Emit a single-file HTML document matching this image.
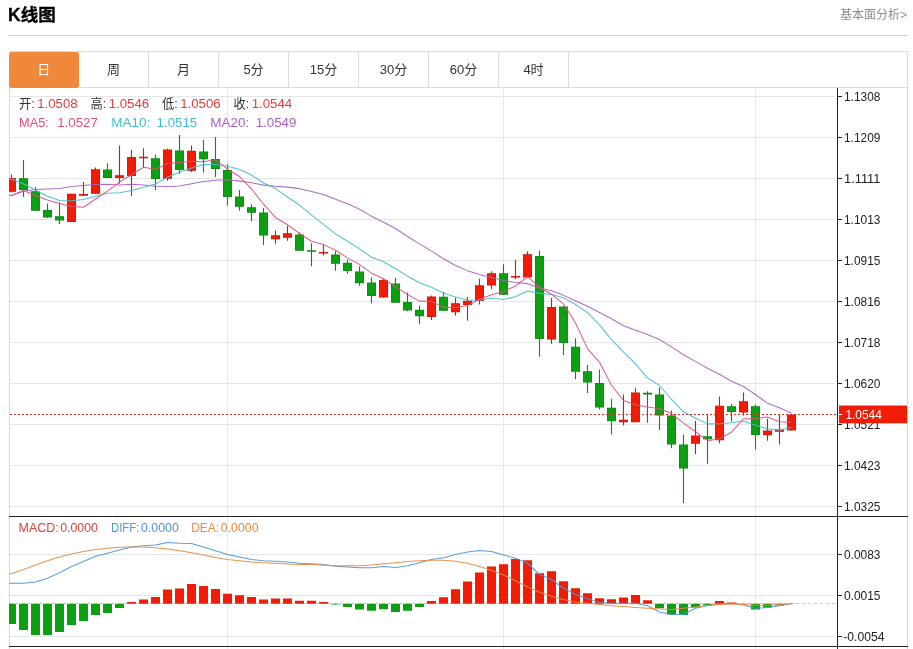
<!DOCTYPE html>
<html lang="zh"><head><meta charset="utf-8"><title>K线图</title>
<style>
html,body{margin:0;padding:0;background:#fff;}
body{width:913px;height:649px;position:relative;overflow:hidden;font-family:"Liberation Sans","Noto Sans CJK SC",sans-serif;color:#333;}
.title{position:absolute;left:8px;top:3px;font-size:17.5px;font-weight:bold;color:#000;-webkit-text-stroke:0.35px #000;line-height:24px;white-space:nowrap;}
.more{position:absolute;right:6px;top:5.5px;font-size:12px;color:#8c8c8c;line-height:18px;white-space:nowrap;}
.hr{position:absolute;left:8px;right:5px;top:35px;height:1px;background:#d4d4d4;}
.tabs{position:absolute;left:9px;top:51px;width:897px;height:35px;border:1px solid #dcdcdc;box-sizing:content-box;}
.tab{position:absolute;top:0;width:69px;height:35px;border-right:1px solid #dcdcdc;text-align:center;line-height:36px;font-size:13px;color:#333;}
.tab.on{background:#f0883c;color:#fff;border-radius:3px;left:-1px;top:-0.5px;height:36px;width:69.5px;border-right:none;}
.frame{position:absolute;left:9px;top:87px;width:897px;height:562px;border-left:1px solid #d6d6d6;border-right:1px solid #d6d6d6;}
.info{position:absolute;font-size:13px;line-height:18px;white-space:nowrap;}
.info b{font-weight:normal;}
.r{color:#e2403a;}
</style></head><body>
<div class="title">K线图</div>
<div class="more">基本面分析&gt;</div>
<div class="hr"></div>
<div class="tabs"><div class="tab on" style="left:-1px">日</div><div class="tab" style="left:69px">周</div><div class="tab" style="left:139px">月</div><div class="tab" style="left:209px">5分</div><div class="tab" style="left:279px">15分</div><div class="tab" style="left:349px">30分</div><div class="tab" style="left:419px">60分</div><div class="tab" style="left:489px">4时</div></div>
<div class="frame"></div>
<svg width="913" height="649" viewBox="0 0 913 649" style="position:absolute;left:0;top:0">
<defs><clipPath id="cp"><rect x="9" y="88" width="828.5" height="558"/></clipPath></defs>
<g stroke="#e4e6e9" stroke-width="1" shape-rendering="crispEdges">
<line x1="10" y1="96.5" x2="835" y2="96.5"/>
<line x1="10" y1="137.5" x2="835" y2="137.5"/>
<line x1="10" y1="178.5" x2="835" y2="178.5"/>
<line x1="10" y1="219.5" x2="835" y2="219.5"/>
<line x1="10" y1="260.5" x2="835" y2="260.5"/>
<line x1="10" y1="301.5" x2="835" y2="301.5"/>
<line x1="10" y1="342.5" x2="835" y2="342.5"/>
<line x1="10" y1="383.5" x2="835" y2="383.5"/>
<line x1="10" y1="424.5" x2="835" y2="424.5"/>
<line x1="10" y1="465.5" x2="835" y2="465.5"/>
<line x1="10" y1="506.5" x2="835" y2="506.5"/>
<line x1="10" y1="554.5" x2="835" y2="554.5"/>
<line x1="10" y1="595.5" x2="835" y2="595.5"/>
<line x1="10" y1="636.5" x2="835" y2="636.5"/>
<line x1="227.5" y1="88" x2="227.5" y2="649" stroke="#e3e9f0"/>
<line x1="503.5" y1="88" x2="503.5" y2="649" stroke="#e3e9f0"/>
<line x1="755.5" y1="88" x2="755.5" y2="649" stroke="#e3e9f0"/>
</g>
<g clip-path="url(#cp)">
<line x1="10" y1="603.75" x2="835" y2="603.75" stroke="#b9d3e2" stroke-width="1" stroke-dasharray="3,3" shape-rendering="crispEdges"/>
<line x1="11.5" y1="174.5" x2="11.5" y2="192.5" stroke="#d4150a" stroke-width="1.1"/>
<rect x="7.0" y="178.25" width="9" height="13.50" fill="#d4150a"/>
<rect x="7.6" y="178.85" width="7.8" height="12.30" fill="#f21b06"/>
<line x1="23.5" y1="160.0" x2="23.5" y2="197.0" stroke="#0b8716" stroke-width="1.1"/>
<rect x="19.0" y="178.25" width="9" height="11.75" fill="#0b8716"/>
<rect x="19.6" y="178.85" width="7.8" height="10.55" fill="#0d9f12"/>
<line x1="35.5" y1="187.0" x2="35.5" y2="210.75" stroke="#0b8716" stroke-width="1.1"/>
<rect x="31.0" y="191.25" width="9" height="19.50" fill="#0b8716"/>
<rect x="31.6" y="191.85" width="7.8" height="18.30" fill="#0d9f12"/>
<line x1="47.5" y1="203.75" x2="47.5" y2="218.0" stroke="#0b8716" stroke-width="1.1"/>
<rect x="43.0" y="210.0" width="9" height="7.50" fill="#0b8716"/>
<rect x="43.6" y="210.6" width="7.8" height="6.30" fill="#0d9f12"/>
<line x1="59.5" y1="202.5" x2="59.5" y2="224.0" stroke="#0b8716" stroke-width="1.1"/>
<rect x="55.0" y="216.25" width="9" height="4.25" fill="#0b8716"/>
<rect x="55.6" y="216.85" width="7.8" height="3.05" fill="#0d9f12"/>
<line x1="71.5" y1="193.75" x2="71.5" y2="222.0" stroke="#d4150a" stroke-width="1.1"/>
<rect x="67.0" y="193.75" width="9" height="28.25" fill="#d4150a"/>
<rect x="67.6" y="194.35" width="7.8" height="27.05" fill="#f21b06"/>
<line x1="83.5" y1="182.0" x2="83.5" y2="195.75" stroke="#d4150a" stroke-width="1.1"/>
<rect x="79.0" y="194.0" width="9" height="1.75" fill="#d4150a"/>
<line x1="95.5" y1="167.5" x2="95.5" y2="193.75" stroke="#d4150a" stroke-width="1.1"/>
<rect x="91.0" y="169.25" width="9" height="24.50" fill="#d4150a"/>
<rect x="91.6" y="169.85" width="7.8" height="23.30" fill="#f21b06"/>
<line x1="107.5" y1="163.25" x2="107.5" y2="178.0" stroke="#0b8716" stroke-width="1.1"/>
<rect x="103.0" y="169.5" width="9" height="8.50" fill="#0b8716"/>
<rect x="103.6" y="170.1" width="7.8" height="7.30" fill="#0d9f12"/>
<line x1="119.5" y1="145.5" x2="119.5" y2="183.75" stroke="#d4150a" stroke-width="1.1"/>
<rect x="115.0" y="175.25" width="9" height="2.75" fill="#d4150a"/>
<rect x="115.6" y="175.85" width="7.8" height="1.55" fill="#f21b06"/>
<line x1="131.5" y1="150.0" x2="131.5" y2="196.0" stroke="#d4150a" stroke-width="1.1"/>
<rect x="127.0" y="157.0" width="9" height="19.00" fill="#d4150a"/>
<rect x="127.6" y="157.6" width="7.8" height="17.80" fill="#f21b06"/>
<line x1="143.5" y1="148.25" x2="143.5" y2="167.5" stroke="#d4150a" stroke-width="1.1"/>
<rect x="139.0" y="156.75" width="9" height="1.50" fill="#d4150a"/>
<line x1="155.5" y1="154.5" x2="155.5" y2="190.0" stroke="#0b8716" stroke-width="1.1"/>
<rect x="151.0" y="158.25" width="9" height="20.75" fill="#0b8716"/>
<rect x="151.6" y="158.85" width="7.8" height="19.55" fill="#0d9f12"/>
<line x1="167.5" y1="148.75" x2="167.5" y2="180.75" stroke="#d4150a" stroke-width="1.1"/>
<rect x="163.0" y="149.5" width="9" height="29.25" fill="#d4150a"/>
<rect x="163.6" y="150.1" width="7.8" height="28.05" fill="#f21b06"/>
<line x1="179.5" y1="135.0" x2="179.5" y2="173.75" stroke="#0b8716" stroke-width="1.1"/>
<rect x="175.0" y="150.5" width="9" height="19.50" fill="#0b8716"/>
<rect x="175.6" y="151.1" width="7.8" height="18.30" fill="#0d9f12"/>
<line x1="191.5" y1="145.5" x2="191.5" y2="172.0" stroke="#d4150a" stroke-width="1.1"/>
<rect x="187.0" y="150.75" width="9" height="20.00" fill="#d4150a"/>
<rect x="187.6" y="151.35" width="7.8" height="18.80" fill="#f21b06"/>
<line x1="203.5" y1="140.0" x2="203.5" y2="172.5" stroke="#0b8716" stroke-width="1.1"/>
<rect x="199.0" y="151.5" width="9" height="7.75" fill="#0b8716"/>
<rect x="199.6" y="152.1" width="7.8" height="6.55" fill="#0d9f12"/>
<line x1="215.5" y1="137.0" x2="215.5" y2="177.0" stroke="#0b8716" stroke-width="1.1"/>
<rect x="211.0" y="159.0" width="9" height="10.00" fill="#0b8716"/>
<rect x="211.6" y="159.6" width="7.8" height="8.80" fill="#0d9f12"/>
<line x1="227.5" y1="164.25" x2="227.5" y2="205.5" stroke="#0b8716" stroke-width="1.1"/>
<rect x="223.0" y="170.0" width="9" height="27.00" fill="#0b8716"/>
<rect x="223.6" y="170.6" width="7.8" height="25.80" fill="#0d9f12"/>
<line x1="239.5" y1="190.0" x2="239.5" y2="210.75" stroke="#0b8716" stroke-width="1.1"/>
<rect x="235.0" y="196.5" width="9" height="10.25" fill="#0b8716"/>
<rect x="235.6" y="197.1" width="7.8" height="9.05" fill="#0d9f12"/>
<line x1="251.5" y1="204.25" x2="251.5" y2="221.25" stroke="#0b8716" stroke-width="1.1"/>
<rect x="247.0" y="207.25" width="9" height="5.50" fill="#0b8716"/>
<rect x="247.6" y="207.85" width="7.8" height="4.30" fill="#0d9f12"/>
<line x1="263.5" y1="208.0" x2="263.5" y2="245.0" stroke="#0b8716" stroke-width="1.1"/>
<rect x="259.0" y="212.5" width="9" height="23.00" fill="#0b8716"/>
<rect x="259.6" y="213.1" width="7.8" height="21.80" fill="#0d9f12"/>
<line x1="275.5" y1="230.5" x2="275.5" y2="243.75" stroke="#d4150a" stroke-width="1.1"/>
<rect x="271.0" y="235.25" width="9" height="4.00" fill="#d4150a"/>
<rect x="271.6" y="235.85" width="7.8" height="2.80" fill="#f21b06"/>
<line x1="287.5" y1="225.75" x2="287.5" y2="240.75" stroke="#d4150a" stroke-width="1.1"/>
<rect x="283.0" y="233.25" width="9" height="4.50" fill="#d4150a"/>
<rect x="283.6" y="233.85" width="7.8" height="3.30" fill="#f21b06"/>
<line x1="299.5" y1="232.5" x2="299.5" y2="250.75" stroke="#0b8716" stroke-width="1.1"/>
<rect x="295.0" y="234.5" width="9" height="16.25" fill="#0b8716"/>
<rect x="295.6" y="235.1" width="7.8" height="15.05" fill="#0d9f12"/>
<line x1="311.5" y1="243.25" x2="311.5" y2="266.25" stroke="#0b8716" stroke-width="1.1"/>
<rect x="307.0" y="250.25" width="9" height="1.50" fill="#0b8716"/>
<line x1="323.5" y1="244.5" x2="323.5" y2="255.5" stroke="#d4150a" stroke-width="1.1"/>
<rect x="319.0" y="252.0" width="9" height="1.50" fill="#d4150a"/>
<line x1="335.5" y1="251.25" x2="335.5" y2="270.75" stroke="#0b8716" stroke-width="1.1"/>
<rect x="331.0" y="254.5" width="9" height="9.25" fill="#0b8716"/>
<rect x="331.6" y="255.1" width="7.8" height="8.05" fill="#0d9f12"/>
<line x1="347.5" y1="259.5" x2="347.5" y2="273.75" stroke="#0b8716" stroke-width="1.1"/>
<rect x="343.0" y="262.75" width="9" height="8.25" fill="#0b8716"/>
<rect x="343.6" y="263.35" width="7.8" height="7.05" fill="#0d9f12"/>
<line x1="359.5" y1="266.25" x2="359.5" y2="285.75" stroke="#0b8716" stroke-width="1.1"/>
<rect x="355.0" y="271.5" width="9" height="11.75" fill="#0b8716"/>
<rect x="355.6" y="272.1" width="7.8" height="10.55" fill="#0d9f12"/>
<line x1="371.5" y1="277.5" x2="371.5" y2="303.25" stroke="#0b8716" stroke-width="1.1"/>
<rect x="367.0" y="282.5" width="9" height="13.50" fill="#0b8716"/>
<rect x="367.6" y="283.1" width="7.8" height="12.30" fill="#0d9f12"/>
<line x1="383.5" y1="278.75" x2="383.5" y2="297.5" stroke="#d4150a" stroke-width="1.1"/>
<rect x="379.0" y="280.0" width="9" height="17.50" fill="#d4150a"/>
<rect x="379.6" y="280.6" width="7.8" height="16.30" fill="#f21b06"/>
<line x1="395.5" y1="278.0" x2="395.5" y2="302.75" stroke="#0b8716" stroke-width="1.1"/>
<rect x="391.0" y="283.5" width="9" height="19.25" fill="#0b8716"/>
<rect x="391.6" y="284.1" width="7.8" height="18.05" fill="#0d9f12"/>
<line x1="407.5" y1="292.5" x2="407.5" y2="311.25" stroke="#0b8716" stroke-width="1.1"/>
<rect x="403.0" y="302.0" width="9" height="8.50" fill="#0b8716"/>
<rect x="403.6" y="302.6" width="7.8" height="7.30" fill="#0d9f12"/>
<line x1="419.5" y1="305.5" x2="419.5" y2="324.25" stroke="#0b8716" stroke-width="1.1"/>
<rect x="415.0" y="309.75" width="9" height="6.50" fill="#0b8716"/>
<rect x="415.6" y="310.35" width="7.8" height="5.30" fill="#0d9f12"/>
<line x1="431.5" y1="295.5" x2="431.5" y2="320.0" stroke="#d4150a" stroke-width="1.1"/>
<rect x="427.0" y="296.5" width="9" height="20.50" fill="#d4150a"/>
<rect x="427.6" y="297.1" width="7.8" height="19.30" fill="#f21b06"/>
<line x1="443.5" y1="292.0" x2="443.5" y2="310.75" stroke="#0b8716" stroke-width="1.1"/>
<rect x="439.0" y="296.75" width="9" height="14.00" fill="#0b8716"/>
<rect x="439.6" y="297.35" width="7.8" height="12.80" fill="#0d9f12"/>
<line x1="455.5" y1="297.5" x2="455.5" y2="315.5" stroke="#d4150a" stroke-width="1.1"/>
<rect x="451.0" y="303.25" width="9" height="9.00" fill="#d4150a"/>
<rect x="451.6" y="303.85" width="7.8" height="7.80" fill="#f21b06"/>
<line x1="467.5" y1="297.0" x2="467.5" y2="320.75" stroke="#d4150a" stroke-width="1.1"/>
<rect x="463.0" y="300.75" width="9" height="4.25" fill="#d4150a"/>
<rect x="463.6" y="301.35" width="7.8" height="3.05" fill="#f21b06"/>
<line x1="479.5" y1="278.75" x2="479.5" y2="304.5" stroke="#d4150a" stroke-width="1.1"/>
<rect x="475.0" y="285.25" width="9" height="15.75" fill="#d4150a"/>
<rect x="475.6" y="285.85" width="7.8" height="14.55" fill="#f21b06"/>
<line x1="491.5" y1="271.25" x2="491.5" y2="289.25" stroke="#d4150a" stroke-width="1.1"/>
<rect x="487.0" y="273.25" width="9" height="12.25" fill="#d4150a"/>
<rect x="487.6" y="273.85" width="7.8" height="11.05" fill="#f21b06"/>
<line x1="503.5" y1="264.25" x2="503.5" y2="294.75" stroke="#0b8716" stroke-width="1.1"/>
<rect x="499.0" y="273.25" width="9" height="21.50" fill="#0b8716"/>
<rect x="499.6" y="273.85" width="7.8" height="20.30" fill="#0d9f12"/>
<line x1="515.5" y1="260.0" x2="515.5" y2="279.25" stroke="#d4150a" stroke-width="1.1"/>
<rect x="511.0" y="276.0" width="9" height="1.50" fill="#d4150a"/>
<line x1="527.5" y1="251.25" x2="527.5" y2="277.5" stroke="#d4150a" stroke-width="1.1"/>
<rect x="523.0" y="254.25" width="9" height="23.25" fill="#d4150a"/>
<rect x="523.6" y="254.85" width="7.8" height="22.05" fill="#f21b06"/>
<line x1="539.5" y1="250.5" x2="539.5" y2="356.75" stroke="#0b8716" stroke-width="1.1"/>
<rect x="535.0" y="256.0" width="9" height="83.00" fill="#0b8716"/>
<rect x="535.6" y="256.6" width="7.8" height="81.80" fill="#0d9f12"/>
<line x1="551.5" y1="298.0" x2="551.5" y2="343.75" stroke="#d4150a" stroke-width="1.1"/>
<rect x="547.0" y="307.0" width="9" height="32.50" fill="#d4150a"/>
<rect x="547.6" y="307.6" width="7.8" height="31.30" fill="#f21b06"/>
<line x1="563.5" y1="306.5" x2="563.5" y2="355.0" stroke="#0b8716" stroke-width="1.1"/>
<rect x="559.0" y="306.5" width="9" height="36.50" fill="#0b8716"/>
<rect x="559.6" y="307.1" width="7.8" height="35.30" fill="#0d9f12"/>
<line x1="575.5" y1="338.25" x2="575.5" y2="379.25" stroke="#0b8716" stroke-width="1.1"/>
<rect x="571.0" y="346.75" width="9" height="25.00" fill="#0b8716"/>
<rect x="571.6" y="347.35" width="7.8" height="23.80" fill="#0d9f12"/>
<line x1="587.5" y1="365.0" x2="587.5" y2="393.0" stroke="#0b8716" stroke-width="1.1"/>
<rect x="583.0" y="371.25" width="9" height="11.25" fill="#0b8716"/>
<rect x="583.6" y="371.85" width="7.8" height="10.05" fill="#0d9f12"/>
<line x1="599.5" y1="369.5" x2="599.5" y2="409.5" stroke="#0b8716" stroke-width="1.1"/>
<rect x="595.0" y="383.0" width="9" height="24.50" fill="#0b8716"/>
<rect x="595.6" y="383.6" width="7.8" height="23.30" fill="#0d9f12"/>
<line x1="611.5" y1="398.75" x2="611.5" y2="434.5" stroke="#0b8716" stroke-width="1.1"/>
<rect x="607.0" y="407.75" width="9" height="13.50" fill="#0b8716"/>
<rect x="607.6" y="408.35" width="7.8" height="12.30" fill="#0d9f12"/>
<line x1="623.5" y1="394.5" x2="623.5" y2="425.5" stroke="#d4150a" stroke-width="1.1"/>
<rect x="619.0" y="419.75" width="9" height="2.50" fill="#d4150a"/>
<rect x="619.6" y="420.35" width="7.8" height="1.30" fill="#f21b06"/>
<line x1="635.5" y1="388.25" x2="635.5" y2="422.25" stroke="#d4150a" stroke-width="1.1"/>
<rect x="631.0" y="392.5" width="9" height="29.75" fill="#d4150a"/>
<rect x="631.6" y="393.1" width="7.8" height="28.55" fill="#f21b06"/>
<line x1="647.5" y1="391.25" x2="647.5" y2="422.75" stroke="#0b8716" stroke-width="1.1"/>
<rect x="643.0" y="392.75" width="9" height="1.75" fill="#0b8716"/>
<line x1="659.5" y1="387.5" x2="659.5" y2="430.0" stroke="#0b8716" stroke-width="1.1"/>
<rect x="655.0" y="394.5" width="9" height="21.00" fill="#0b8716"/>
<rect x="655.6" y="395.1" width="7.8" height="19.80" fill="#0d9f12"/>
<line x1="671.5" y1="410.5" x2="671.5" y2="448.25" stroke="#0b8716" stroke-width="1.1"/>
<rect x="667.0" y="415.5" width="9" height="29.00" fill="#0b8716"/>
<rect x="667.6" y="416.1" width="7.8" height="27.80" fill="#0d9f12"/>
<line x1="683.5" y1="434.5" x2="683.5" y2="503.0" stroke="#0b8716" stroke-width="1.1"/>
<rect x="679.0" y="444.5" width="9" height="24.00" fill="#0b8716"/>
<rect x="679.6" y="445.1" width="7.8" height="22.80" fill="#0d9f12"/>
<line x1="695.5" y1="420.75" x2="695.5" y2="454.25" stroke="#d4150a" stroke-width="1.1"/>
<rect x="691.0" y="435.5" width="9" height="8.25" fill="#d4150a"/>
<rect x="691.6" y="436.1" width="7.8" height="7.05" fill="#f21b06"/>
<line x1="707.5" y1="414.5" x2="707.5" y2="463.75" stroke="#0b8716" stroke-width="1.1"/>
<rect x="703.0" y="436.25" width="9" height="3.00" fill="#0b8716"/>
<rect x="703.6" y="436.85" width="7.8" height="1.80" fill="#0d9f12"/>
<line x1="719.5" y1="396.5" x2="719.5" y2="443.25" stroke="#d4150a" stroke-width="1.1"/>
<rect x="715.0" y="405.75" width="9" height="34.50" fill="#d4150a"/>
<rect x="715.6" y="406.35" width="7.8" height="33.30" fill="#f21b06"/>
<line x1="731.5" y1="404.0" x2="731.5" y2="421.75" stroke="#0b8716" stroke-width="1.1"/>
<rect x="727.0" y="406.25" width="9" height="5.75" fill="#0b8716"/>
<rect x="727.6" y="406.85" width="7.8" height="4.55" fill="#0d9f12"/>
<line x1="743.5" y1="392.5" x2="743.5" y2="415.5" stroke="#d4150a" stroke-width="1.1"/>
<rect x="739.0" y="401.25" width="9" height="11.25" fill="#d4150a"/>
<rect x="739.6" y="401.85" width="7.8" height="10.05" fill="#f21b06"/>
<line x1="755.5" y1="404.5" x2="755.5" y2="449.5" stroke="#0b8716" stroke-width="1.1"/>
<rect x="751.0" y="406.25" width="9" height="28.75" fill="#0b8716"/>
<rect x="751.6" y="406.85" width="7.8" height="27.55" fill="#0d9f12"/>
<line x1="767.5" y1="418.75" x2="767.5" y2="440.75" stroke="#d4150a" stroke-width="1.1"/>
<rect x="763.0" y="430.5" width="9" height="4.75" fill="#d4150a"/>
<rect x="763.6" y="431.1" width="7.8" height="3.55" fill="#f21b06"/>
<line x1="779.5" y1="414.5" x2="779.5" y2="444.5" stroke="#d4150a" stroke-width="1.1"/>
<rect x="775.0" y="429.5" width="9" height="2.25" fill="#d4150a"/>
<rect x="775.6" y="430.1" width="7.8" height="1.05" fill="#f21b06"/>
<line x1="791.5" y1="414.5" x2="791.5" y2="430.5" stroke="#d4150a" stroke-width="1.1"/>
<rect x="787.0" y="414.5" width="9" height="16.00" fill="#d4150a"/>
<rect x="787.6" y="415.1" width="7.8" height="14.80" fill="#f21b06"/>
<rect x="7.0" y="603.75" width="9" height="20.25" fill="#0d9f12"/>
<rect x="19.0" y="603.75" width="9" height="26.25" fill="#0d9f12"/>
<rect x="31.0" y="603.75" width="9" height="31.25" fill="#0d9f12"/>
<rect x="43.0" y="603.75" width="9" height="31.25" fill="#0d9f12"/>
<rect x="55.0" y="603.75" width="9" height="28.25" fill="#0d9f12"/>
<rect x="67.0" y="603.75" width="9" height="21.25" fill="#0d9f12"/>
<rect x="79.0" y="603.75" width="9" height="17.25" fill="#0d9f12"/>
<rect x="91.0" y="603.75" width="9" height="11.25" fill="#0d9f12"/>
<rect x="103.0" y="603.75" width="9" height="9.25" fill="#0d9f12"/>
<rect x="115.0" y="603.75" width="9" height="4.25" fill="#0d9f12"/>
<rect x="127.0" y="602" width="9" height="1.75" fill="#f21b06"/>
<rect x="139.0" y="599.5" width="9" height="4.25" fill="#f21b06"/>
<rect x="151.0" y="597" width="9" height="6.75" fill="#f21b06"/>
<rect x="163.0" y="589.5" width="9" height="14.25" fill="#f21b06"/>
<rect x="175.0" y="588.5" width="9" height="15.25" fill="#f21b06"/>
<rect x="187.0" y="584" width="9" height="19.75" fill="#f21b06"/>
<rect x="199.0" y="586" width="9" height="17.75" fill="#f21b06"/>
<rect x="211.0" y="589" width="9" height="14.75" fill="#f21b06"/>
<rect x="223.0" y="593.75" width="9" height="10.00" fill="#f21b06"/>
<rect x="235.0" y="595.25" width="9" height="8.50" fill="#f21b06"/>
<rect x="247.0" y="597" width="9" height="6.75" fill="#f21b06"/>
<rect x="259.0" y="599.5" width="9" height="4.25" fill="#f21b06"/>
<rect x="271.0" y="598.5" width="9" height="5.25" fill="#f21b06"/>
<rect x="283.0" y="598.5" width="9" height="5.25" fill="#f21b06"/>
<rect x="295.0" y="600.75" width="9" height="3.00" fill="#f21b06"/>
<rect x="307.0" y="600.75" width="9" height="3.00" fill="#f21b06"/>
<rect x="319.0" y="602" width="9" height="1.75" fill="#f21b06"/>
<rect x="331.0" y="603.75" width="9" height="0.75" fill="#0d9f12"/>
<rect x="343.0" y="603.75" width="9" height="3.25" fill="#0d9f12"/>
<rect x="355.0" y="603.75" width="9" height="5.75" fill="#0d9f12"/>
<rect x="367.0" y="603.75" width="9" height="7.00" fill="#0d9f12"/>
<rect x="379.0" y="603.75" width="9" height="5.50" fill="#0d9f12"/>
<rect x="391.0" y="603.75" width="9" height="8.25" fill="#0d9f12"/>
<rect x="403.0" y="603.75" width="9" height="7.00" fill="#0d9f12"/>
<rect x="415.0" y="603.75" width="9" height="3.25" fill="#0d9f12"/>
<rect x="427.0" y="601" width="9" height="2.75" fill="#f21b06"/>
<rect x="439.0" y="597.25" width="9" height="6.50" fill="#f21b06"/>
<rect x="451.0" y="589.25" width="9" height="14.50" fill="#f21b06"/>
<rect x="463.0" y="581.5" width="9" height="22.25" fill="#f21b06"/>
<rect x="475.0" y="572.5" width="9" height="31.25" fill="#f21b06"/>
<rect x="487.0" y="566.5" width="9" height="37.25" fill="#f21b06"/>
<rect x="499.0" y="564.25" width="9" height="39.50" fill="#f21b06"/>
<rect x="511.0" y="559" width="9" height="44.75" fill="#f21b06"/>
<rect x="523.0" y="560.25" width="9" height="43.50" fill="#f21b06"/>
<rect x="535.0" y="573.25" width="9" height="30.50" fill="#f21b06"/>
<rect x="547.0" y="571.25" width="9" height="32.50" fill="#f21b06"/>
<rect x="559.0" y="581.25" width="9" height="22.50" fill="#f21b06"/>
<rect x="571.0" y="588.25" width="9" height="15.50" fill="#f21b06"/>
<rect x="583.0" y="593.25" width="9" height="10.50" fill="#f21b06"/>
<rect x="595.0" y="598.25" width="9" height="5.50" fill="#f21b06"/>
<rect x="607.0" y="599.25" width="9" height="4.50" fill="#f21b06"/>
<rect x="619.0" y="597.5" width="9" height="6.25" fill="#f21b06"/>
<rect x="631.0" y="595" width="9" height="8.75" fill="#f21b06"/>
<rect x="643.0" y="600.25" width="9" height="3.50" fill="#f21b06"/>
<rect x="655.0" y="603.75" width="9" height="4.50" fill="#0d9f12"/>
<rect x="667.0" y="603.75" width="9" height="10.75" fill="#0d9f12"/>
<rect x="679.0" y="603.75" width="9" height="11.25" fill="#0d9f12"/>
<rect x="691.0" y="603.75" width="9" height="3.75" fill="#0d9f12"/>
<rect x="703.0" y="603.75" width="9" height="1.25" fill="#0d9f12"/>
<rect x="715.0" y="601" width="9" height="2.75" fill="#f21b06"/>
<rect x="727.0" y="602.5" width="9" height="1.25" fill="#f21b06"/>
<rect x="739.0" y="603.5" width="9" height="0.25" fill="#f21b06"/>
<rect x="751.0" y="603.75" width="9" height="5.75" fill="#0d9f12"/>
<rect x="763.0" y="603.75" width="9" height="3.75" fill="#0d9f12"/>
<rect x="775.0" y="603.75" width="9" height="1.75" fill="#0d9f12"/>
<rect x="787.0" y="603.75" width="9" height="0.25" fill="#0d9f12"/>
<polyline points="9.0,195.50 11.5,195.50 23.5,191.25 35.5,189.50 47.5,189.00 59.5,188.50 71.5,186.50 83.5,185.50 95.5,184.50 107.5,184.25 119.5,185.00 131.5,184.25 143.5,185.00 155.5,186.25 167.5,186.50 179.5,186.00 191.5,183.75 203.5,181.50 215.5,180.25 227.5,179.75 239.5,181.11 251.5,182.84 263.5,185.11 275.5,186.34 287.5,187.12 299.5,188.64 311.5,191.54 323.5,194.44 335.5,199.16 347.5,203.81 359.5,209.21 371.5,216.16 383.5,222.32 395.5,228.51 407.5,236.56 419.5,243.88 431.5,251.16 443.5,258.74 455.5,265.45 467.5,270.64 479.5,274.56 491.5,277.59 503.5,280.55 515.5,282.59 527.5,283.64 539.5,288.05 551.5,290.81 563.5,295.36 575.5,300.76 587.5,306.34 599.5,312.55 611.5,318.81 623.5,325.80 635.5,330.29 647.5,334.49 659.5,339.45 671.5,346.85 683.5,354.74 695.5,361.35 707.5,368.27 719.5,374.30 731.5,381.24 743.5,386.56 755.5,394.51 767.5,403.32 779.5,407.85 791.5,413.23" fill="none" stroke="#a95fc9" stroke-width="1.05" stroke-linejoin="round" stroke-opacity="0.92"/>
<polyline points="9.0,179.25 11.5,179.25 23.5,183.75 35.5,190.00 47.5,196.25 59.5,200.50 71.5,200.75 83.5,199.50 95.5,196.25 107.5,193.25 119.5,192.72 131.5,190.60 143.5,187.28 155.5,184.10 167.5,177.30 179.5,172.25 191.5,167.95 203.5,164.47 215.5,164.45 227.5,166.35 239.5,169.50 251.5,175.07 263.5,182.95 275.5,188.57 287.5,196.95 299.5,205.03 311.5,215.12 323.5,224.40 335.5,233.88 347.5,241.28 359.5,248.93 371.5,257.25 383.5,261.70 395.5,268.45 407.5,276.18 419.5,282.73 431.5,287.20 443.5,293.07 455.5,297.02 467.5,300.00 479.5,300.20 491.5,297.93 503.5,299.40 515.5,296.73 527.5,291.10 539.5,293.38 551.5,294.43 563.5,297.65 575.5,304.50 587.5,312.68 599.5,324.90 611.5,339.70 623.5,352.20 635.5,363.85 647.5,377.88 659.5,385.52 671.5,399.27 683.5,411.82 695.5,418.20 707.5,423.88 719.5,423.70 731.5,422.77 743.5,420.93 755.5,425.18 767.5,428.77 779.5,430.18 791.5,427.18" fill="none" stroke="#43bdd2" stroke-width="1.05" stroke-linejoin="round" stroke-opacity="0.92"/>
<polyline points="9.0,195.50 11.5,195.50 23.5,190.50 35.5,195.50 47.5,200.00 59.5,203.40 71.5,206.50 83.5,207.30 95.5,199.00 107.5,191.10 119.5,182.05 131.5,174.70 143.5,167.25 155.5,169.20 167.5,163.50 179.5,162.45 191.5,161.20 203.5,161.70 215.5,159.70 227.5,169.20 239.5,176.55 251.5,188.95 263.5,204.20 275.5,217.45 287.5,224.70 299.5,233.50 311.5,241.30 323.5,244.60 335.5,250.30 347.5,257.85 359.5,264.35 371.5,273.20 383.5,278.80 395.5,286.60 407.5,294.50 419.5,301.10 431.5,301.20 443.5,307.35 455.5,307.45 467.5,305.50 479.5,299.30 491.5,294.65 503.5,291.45 515.5,286.00 527.5,276.70 539.5,287.45 551.5,294.20 563.5,303.85 575.5,323.00 587.5,348.65 599.5,362.35 611.5,385.20 623.5,400.55 635.5,404.70 647.5,407.10 659.5,408.70 671.5,413.35 683.5,423.10 695.5,431.70 707.5,440.65 719.5,438.70 731.5,432.20 743.5,418.75 755.5,418.65 767.5,416.90 779.5,421.65 791.5,422.15" fill="none" stroke="#e2507f" stroke-width="1.05" stroke-linejoin="round" stroke-opacity="0.92"/>
<polyline points="9.0,583.25 11.5,583.25 23.5,583.25 35.5,582.00 47.5,578.25 59.5,572.75 71.5,566.50 83.5,561.50 95.5,556.25 107.5,553.25 119.5,550.00 131.5,547.00 143.5,545.75 155.5,545.00 167.5,542.50 179.5,543.25 191.5,543.50 203.5,547.00 215.5,550.75 227.5,554.50 239.5,557.00 251.5,559.50 263.5,560.75 275.5,561.25 287.5,562.00 299.5,563.25 311.5,563.75 323.5,564.50 335.5,566.25 347.5,567.00 359.5,567.75 371.5,567.75 383.5,566.50 395.5,567.50 407.5,565.75 419.5,562.75 431.5,559.50 443.5,557.75 455.5,554.50 467.5,552.00 479.5,550.50 491.5,551.50 503.5,555.00 515.5,558.25 527.5,563.25 539.5,574.50 551.5,579.50 563.5,588.25 575.5,594.50 587.5,598.75 599.5,602.50 611.5,603.25 623.5,603.25 635.5,603.25 647.5,605.75 659.5,612.00 671.5,614.50 683.5,614.50 695.5,608.25 707.5,605.75 719.5,604.00 731.5,603.25 743.5,605.00 755.5,608.25 767.5,607.50 779.5,605.75 791.5,603.75" fill="none" stroke="#4b96dc" stroke-width="1.05" stroke-linejoin="round" stroke-opacity="0.92"/>
<polyline points="9.0,573.75 11.5,573.75 23.5,569.50 35.5,565.00 47.5,560.75 59.5,557.00 71.5,554.00 83.5,551.50 95.5,549.50 107.5,548.25 119.5,547.25 131.5,547.00 143.5,547.00 155.5,547.75 167.5,549.00 179.5,550.75 191.5,552.75 203.5,555.00 215.5,557.50 227.5,559.50 239.5,560.75 251.5,562.00 263.5,562.75 275.5,563.25 287.5,564.00 299.5,564.50 311.5,564.50 323.5,565.25 335.5,565.75 347.5,565.75 359.5,565.75 371.5,565.00 383.5,563.75 395.5,562.75 407.5,561.50 419.5,560.75 431.5,560.25 443.5,560.25 455.5,561.25 467.5,563.25 479.5,566.50 491.5,570.25 503.5,575.00 515.5,580.75 527.5,587.00 539.5,592.00 551.5,596.25 563.5,599.50 575.5,602.00 587.5,603.25 599.5,604.50 611.5,605.75 623.5,606.50 635.5,607.50 647.5,608.25 659.5,609.00 671.5,609.50 683.5,608.25 695.5,607.00 707.5,605.25 719.5,604.50 731.5,604.00 743.5,604.50 755.5,605.25 767.5,605.25 779.5,604.50 791.5,603.75" fill="none" stroke="#ea8a3c" stroke-width="1.05" stroke-linejoin="round" stroke-opacity="0.92"/>
</g>
<line x1="10" y1="414.5" x2="838" y2="414.5" stroke="#dc3220" stroke-width="1" stroke-dasharray="2,2" shape-rendering="crispEdges"/>
<g stroke="#222" shape-rendering="crispEdges">
<line x1="837.5" y1="88" x2="837.5" y2="649" stroke-width="1"/>
<line x1="9" y1="516.5" x2="907.5" y2="516.5" stroke-width="1"/>
<line x1="9" y1="646.5" x2="907.5" y2="646.5" stroke-width="1"/>
<line x1="838" y1="96.5" x2="842" y2="96.5"/>
<line x1="838" y1="137.5" x2="842" y2="137.5"/>
<line x1="838" y1="178.5" x2="842" y2="178.5"/>
<line x1="838" y1="219.5" x2="842" y2="219.5"/>
<line x1="838" y1="260.5" x2="842" y2="260.5"/>
<line x1="838" y1="301.5" x2="842" y2="301.5"/>
<line x1="838" y1="342.5" x2="842" y2="342.5"/>
<line x1="838" y1="383.5" x2="842" y2="383.5"/>
<line x1="838" y1="424.5" x2="842" y2="424.5"/>
<line x1="838" y1="465.5" x2="842" y2="465.5"/>
<line x1="838" y1="506.5" x2="842" y2="506.5"/>
<line x1="838" y1="554.5" x2="842" y2="554.5"/>
<line x1="838" y1="595.5" x2="842" y2="595.5"/>
<line x1="838" y1="636.5" x2="842" y2="636.5"/>
</g>
<g font-family="Liberation Sans, sans-serif" font-size="12.9" fill="#222">
<text x="844" y="100.6" textLength="36.4" lengthAdjust="spacingAndGlyphs">1.1308</text>
<text x="844" y="141.6" textLength="36.4" lengthAdjust="spacingAndGlyphs">1.1209</text>
<text x="844" y="182.6" textLength="36.4" lengthAdjust="spacingAndGlyphs">1.1111</text>
<text x="844" y="223.6" textLength="36.4" lengthAdjust="spacingAndGlyphs">1.1013</text>
<text x="844" y="264.6" textLength="36.4" lengthAdjust="spacingAndGlyphs">1.0915</text>
<text x="844" y="305.6" textLength="36.4" lengthAdjust="spacingAndGlyphs">1.0816</text>
<text x="844" y="346.6" textLength="36.4" lengthAdjust="spacingAndGlyphs">1.0718</text>
<text x="844" y="387.6" textLength="36.4" lengthAdjust="spacingAndGlyphs">1.0620</text>
<text x="844" y="428.6" textLength="36.4" lengthAdjust="spacingAndGlyphs">1.0521</text>
<text x="844" y="469.6" textLength="36.4" lengthAdjust="spacingAndGlyphs">1.0423</text>
<text x="844" y="510.6" textLength="36.4" lengthAdjust="spacingAndGlyphs">1.0325</text>
<text x="844" y="558.6" textLength="36.4" lengthAdjust="spacingAndGlyphs">0.0083</text>
<text x="844" y="599.6" textLength="36.4" lengthAdjust="spacingAndGlyphs">0.0015</text>
<text x="843.2" y="640.6" textLength="41.3" lengthAdjust="spacingAndGlyphs">-0.0054</text>
</g>
<rect x="839" y="405.5" width="68" height="17.8" fill="#f21b06"/>
<line x1="838" y1="414.5" x2="842" y2="414.5" stroke="#fff" stroke-width="1"/>
<text x="845.4" y="418.8" font-family="Liberation Sans, sans-serif" font-size="12.9" fill="#fff" textLength="36.4" lengthAdjust="spacingAndGlyphs">1.0544</text>
<text x="19.0" y="108.34" font-family="Liberation Sans, Noto Sans CJK SC, sans-serif" font-size="12.6" fill="#333" textLength="15.6" lengthAdjust="spacingAndGlyphs">开:</text>
<text x="37.2" y="108.42" font-family="Liberation Sans, Noto Sans CJK SC, sans-serif" font-size="13.4" fill="#e2403a" textLength="40.4" lengthAdjust="spacingAndGlyphs">1.0508</text>
<text x="90.5" y="108.34" font-family="Liberation Sans, Noto Sans CJK SC, sans-serif" font-size="12.6" fill="#333" textLength="15.6" lengthAdjust="spacingAndGlyphs">高:</text>
<text x="108.7" y="108.42" font-family="Liberation Sans, Noto Sans CJK SC, sans-serif" font-size="13.4" fill="#e2403a" textLength="40.4" lengthAdjust="spacingAndGlyphs">1.0546</text>
<text x="162.0" y="108.34" font-family="Liberation Sans, Noto Sans CJK SC, sans-serif" font-size="12.6" fill="#333" textLength="15.6" lengthAdjust="spacingAndGlyphs">低:</text>
<text x="180.2" y="108.42" font-family="Liberation Sans, Noto Sans CJK SC, sans-serif" font-size="13.4" fill="#e2403a" textLength="40.4" lengthAdjust="spacingAndGlyphs">1.0506</text>
<text x="233.5" y="108.34" font-family="Liberation Sans, Noto Sans CJK SC, sans-serif" font-size="12.6" fill="#333" textLength="15.6" lengthAdjust="spacingAndGlyphs">收:</text>
<text x="251.7" y="108.42" font-family="Liberation Sans, Noto Sans CJK SC, sans-serif" font-size="13.4" fill="#e2403a" textLength="40.4" lengthAdjust="spacingAndGlyphs">1.0544</text>
<text x="19" y="126.62" font-family="Liberation Sans, Noto Sans CJK SC, sans-serif" font-size="13.4" fill="#e2507f" textLength="29.8" lengthAdjust="spacingAndGlyphs">MA5:</text>
<text x="57.2" y="126.62" font-family="Liberation Sans, Noto Sans CJK SC, sans-serif" font-size="13.4" fill="#e2507f" textLength="40.6" lengthAdjust="spacingAndGlyphs">1.0527</text>
<text x="111.3" y="126.62" font-family="Liberation Sans, Noto Sans CJK SC, sans-serif" font-size="13.4" fill="#43bdd2" textLength="39.0" lengthAdjust="spacingAndGlyphs">MA10:</text>
<text x="156.6" y="126.62" font-family="Liberation Sans, Noto Sans CJK SC, sans-serif" font-size="13.4" fill="#43bdd2" textLength="40.6" lengthAdjust="spacingAndGlyphs">1.0515</text>
<text x="210.3" y="126.62" font-family="Liberation Sans, Noto Sans CJK SC, sans-serif" font-size="13.4" fill="#a95fc9" textLength="39.0" lengthAdjust="spacingAndGlyphs">MA20:</text>
<text x="255.7" y="126.62" font-family="Liberation Sans, Noto Sans CJK SC, sans-serif" font-size="13.4" fill="#a95fc9" textLength="40.6" lengthAdjust="spacingAndGlyphs">1.0549</text>
<text x="18.6" y="532.10" font-family="Liberation Sans, Noto Sans CJK SC, sans-serif" font-size="12.5" fill="#e2403a" textLength="40.2" lengthAdjust="spacingAndGlyphs">MACD:</text>
<text x="60.2" y="532.10" font-family="Liberation Sans, Noto Sans CJK SC, sans-serif" font-size="12.5" fill="#e2403a" textLength="37.8" lengthAdjust="spacingAndGlyphs">0.0000</text>
<text x="111.0" y="532.10" font-family="Liberation Sans, Noto Sans CJK SC, sans-serif" font-size="12.5" fill="#4b96dc" textLength="28.4" lengthAdjust="spacingAndGlyphs">DIFF:</text>
<text x="141.0" y="532.10" font-family="Liberation Sans, Noto Sans CJK SC, sans-serif" font-size="12.5" fill="#4b96dc" textLength="37.8" lengthAdjust="spacingAndGlyphs">0.0000</text>
<text x="191.2" y="532.10" font-family="Liberation Sans, Noto Sans CJK SC, sans-serif" font-size="12.5" fill="#ea8a3c" textLength="27.8" lengthAdjust="spacingAndGlyphs">DEA:</text>
<text x="220.8" y="532.10" font-family="Liberation Sans, Noto Sans CJK SC, sans-serif" font-size="12.5" fill="#ea8a3c" textLength="37.8" lengthAdjust="spacingAndGlyphs">0.0000</text>
</svg>
</body></html>
